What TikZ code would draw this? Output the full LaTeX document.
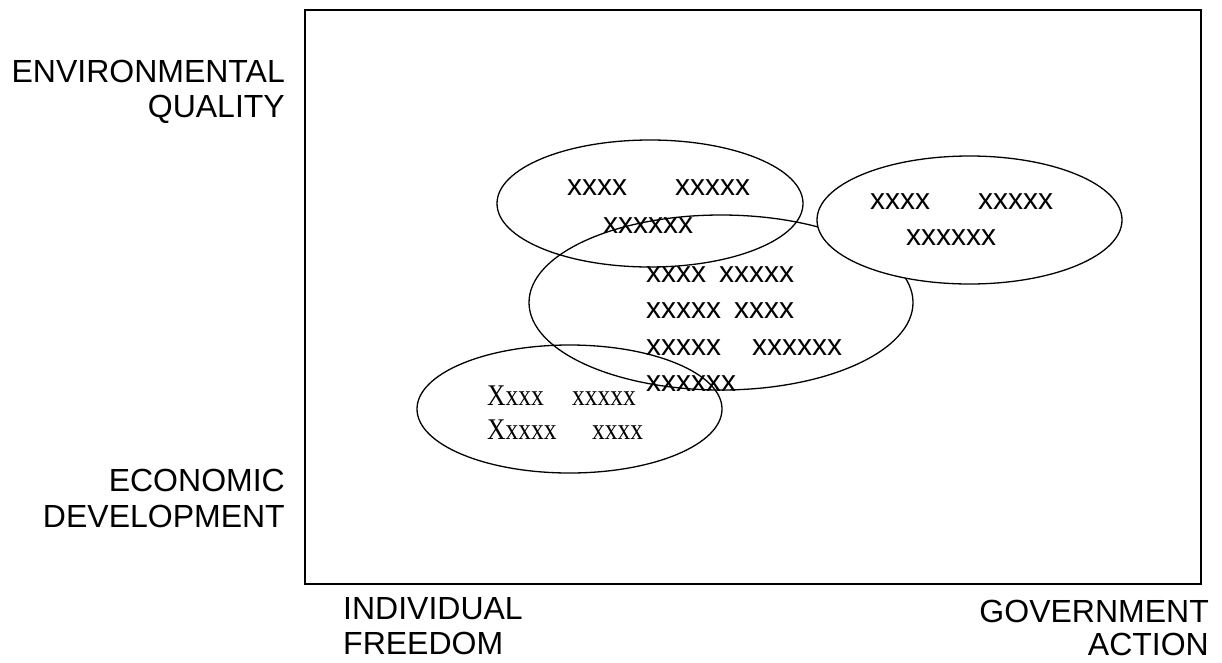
\documentclass[tikz,border=0pt]{standalone}
\usepackage{fontspec}
\setmainfont{Liberation Sans}
\newfontfamily\timesx{Liberation Serif}
\usetikzlibrary{shapes.geometric}
\begin{document}
\begin{tikzpicture}[x=1pt,y=-1pt,
  axislabel/.style={inner sep=0pt,font=\fontsize{32}{36}\selectfont},
  cloud/.style={ellipse,draw,line width=1.3pt,inner sep=0pt},
  xtext/.style={inner sep=0pt,anchor=base west,font=\fontsize{30}{36}\selectfont},
  stext/.style={inner sep=0pt,anchor=base west,font=\timesx\fontsize{30}{36}\selectfont}]
\useasboundingbox (0,0) rectangle (1222,662);

% plot frame
\draw[line width=1.3pt] (305,10) rectangle (1201,584);

% axis labels
\node[axislabel,anchor=base east] (env1) at (285,82) {ENVIRONMENTAL};
\node[axislabel,anchor=base east] (env2) at (285,117) {QUALITY};
\node[axislabel,anchor=base east] (eco1) at (285,491) {ECONOMIC};
\node[axislabel,anchor=base east] (eco2) at (285,527) {DEVELOPMENT};
\node[axislabel,anchor=base west] (ind1) at (343,619) {INDIVIDUAL};
\node[axislabel,anchor=base west] (ind2) at (343,654) {FREEDOM};
\node[axislabel,anchor=base east] (gov1) at (1209,622) {GOVERNMENT};
\node[axislabel,anchor=base east] (gov2) at (1209,655) {ACTION};

% clusters
\node[cloud,minimum width=306pt,minimum height=127pt] (top) at (650,203.5) {};
\node[cloud,minimum width=384pt,minimum height=175pt] (mid) at (721,302.5) {};
\node[cloud,minimum width=305pt,minimum height=128pt] (low) at (569.5,409) {};
\node[cloud,fill=white,minimum width=305pt,minimum height=128pt] (right) at (969.5,220) {};

% cluster contents
\node[xtext] (top1) at (567,195) {xxxx\hspace{48pt}xxxxx};
\node[xtext] (top2) at (603,233) {xxxxxx};

\node[xtext] (mid1) at (646,282) {xxxx\hspace{13pt}xxxxx};
\node[xtext] (mid2) at (646,318) {xxxxx\hspace{13pt}xxxx};
\node[xtext] (mid3) at (646,355) {xxxxx\hspace{31pt}xxxxxx};
\node[xtext] (mid4) at (646,391) {xxxxxx};

\node[xtext] (right1) at (870,209) {xxxx\hspace{48pt}xxxxx};
\node[xtext] (right2) at (906,245) {xxxxxx};

\node[stext] (low1a) at (487,405) {\scalebox{0.85}[1]{Xxxx}};
\node[stext] (low1b) at (572,405) {\scalebox{0.85}[1]{xxxxx}};
\node[stext] (low2a) at (487,439) {\scalebox{0.85}[1]{Xxxxx}};
\node[stext] (low2b) at (592,439) {\scalebox{0.85}[1]{xxxx}};
\end{tikzpicture}
\end{document}
